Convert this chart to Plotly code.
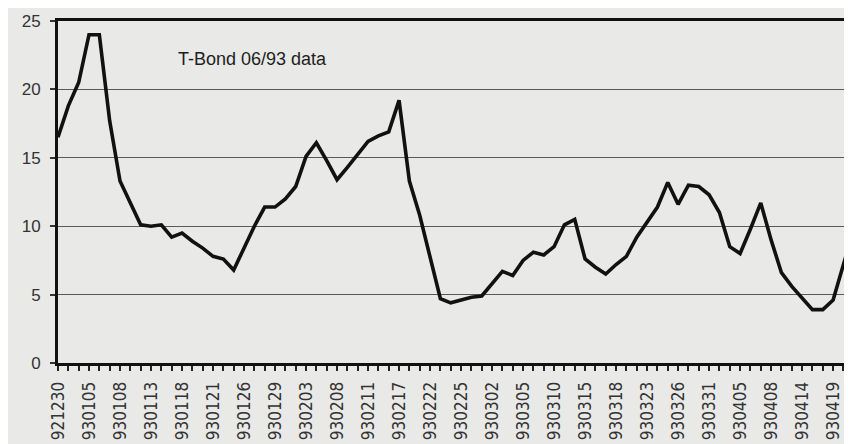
import plotly.graph_objects as go

# Trading days (YYMMDD) shown on the x axis
dates = [
    "921230", "921231",
    "930104", "930105", "930106", "930107", "930108",
    "930111", "930112", "930113", "930114", "930115",
    "930118", "930119", "930120", "930121", "930122",
    "930125", "930126", "930127", "930128", "930129",
    "930201", "930202", "930203", "930204", "930205",
    "930208", "930209", "930210", "930211", "930212",
    "930216", "930217", "930218", "930219",
    "930222", "930223", "930224", "930225", "930226",
    "930301", "930302", "930303", "930304", "930305",
    "930308", "930309", "930310", "930311", "930312",
    "930315", "930316", "930317", "930318", "930319",
    "930322", "930323", "930324", "930325", "930326",
    "930329", "930330", "930331", "930401", "930402",
    "930405", "930406", "930407", "930408",
    "930412", "930413", "930414", "930415", "930416",
    "930419", "930420", "930421",
]

# Volatility values
values = [
    16.5, 18.8, 20.5, 24.0, 24.0, 17.7, 13.3, 11.7, 10.1, 10.0,
    10.1, 9.2, 9.5, 8.9, 8.4, 7.8, 7.6, 6.8, 8.4, 10.0,
    11.4, 11.4, 12.0, 12.9, 15.1, 16.1, 14.8, 13.4, 14.3, 15.3,
    16.2, 16.6, 16.9, 19.2, 13.3, 10.8, 7.7, 4.7, 4.4, 4.6,
    4.8, 4.9, 5.8, 6.7, 6.4, 7.5, 8.1, 7.9, 8.5, 10.1,
    10.5, 7.6, 7.0, 6.5, 7.2, 7.8, 9.2, 10.3, 11.4, 13.2,
    11.6, 13.0, 12.9, 12.3, 11.0, 8.5, 8.0, 9.8, 11.7, 9.0,
    6.6, 5.6, 4.7, 3.9, 3.9, 4.6, 7.2, 9.8,
]

# Labelled ticks on the x axis
label_dates = [
    "921230", "930105", "930108", "930113", "930118", "930121", "930126",
    "930129", "930203", "930208", "930211", "930217", "930222", "930225",
    "930302", "930305", "930310", "930315", "930318", "930323", "930326",
    "930331", "930405", "930408", "930414", "930419",
]

y_ticks = [0, 5, 10, 15, 20, 25]
title_text = "T-Bond 06/93 data"

bg = "#e9e9e7"
font_family = "Arial, Liberation Sans, sans-serif"
narrow_family = "Liberation Sans Narrow, Arial Narrow, DejaVu Sans Condensed, Arial, sans-serif"

fig = go.Figure()
fig.add_trace(go.Scatter(
    x=dates, y=values, mode="lines",
    line=dict(color="#111111", width=3.6),
    showlegend=False, hoverinfo="skip",
))

fig.update_layout(
    width=844, height=436,
    margin=dict(l=50, r=4, t=11, b=77),
    paper_bgcolor=bg, plot_bgcolor=bg,
    font=dict(family=font_family, color="#2a2a2a"),
    annotations=[dict(
        text=title_text, xref="paper", yref="paper",
        x=0.150, y=0.888, xanchor="left", yanchor="middle",
        showarrow=False, font=dict(size=18, color="#1e1e1e", family=font_family),
    )],
)

fig.update_xaxes(
    type="category", categoryorder="array", categoryarray=dates,
    range=[0, 76.15],
    tickmode="array", tickvals=dates,
    ticktext=[d if d in label_dates else "" for d in dates],
    tickangle=-90, tickfont=dict(size=17, color="#333333", family=narrow_family),
    ticks="outside", ticklen=5, tickwidth=1.5, tickcolor="#222222",
    ticklabelstandoff=4,
    showgrid=False, zeroline=False,
    showline=True, linecolor="#111111", linewidth=3, mirror=True,
)

fig.update_yaxes(
    range=[0, 25], tickvals=y_ticks,
    tickfont=dict(size=17, color="#333333"),
    ticks="outside", ticklen=5, tickwidth=1.5, tickcolor="#333333",
    ticklabelstandoff=6,
    showgrid=True, gridcolor="#5a5a5a", gridwidth=1.4,
    zeroline=False,
    showline=True, linecolor="#111111", linewidth=3, mirror=True,
)

fig.write_html("out.html")
